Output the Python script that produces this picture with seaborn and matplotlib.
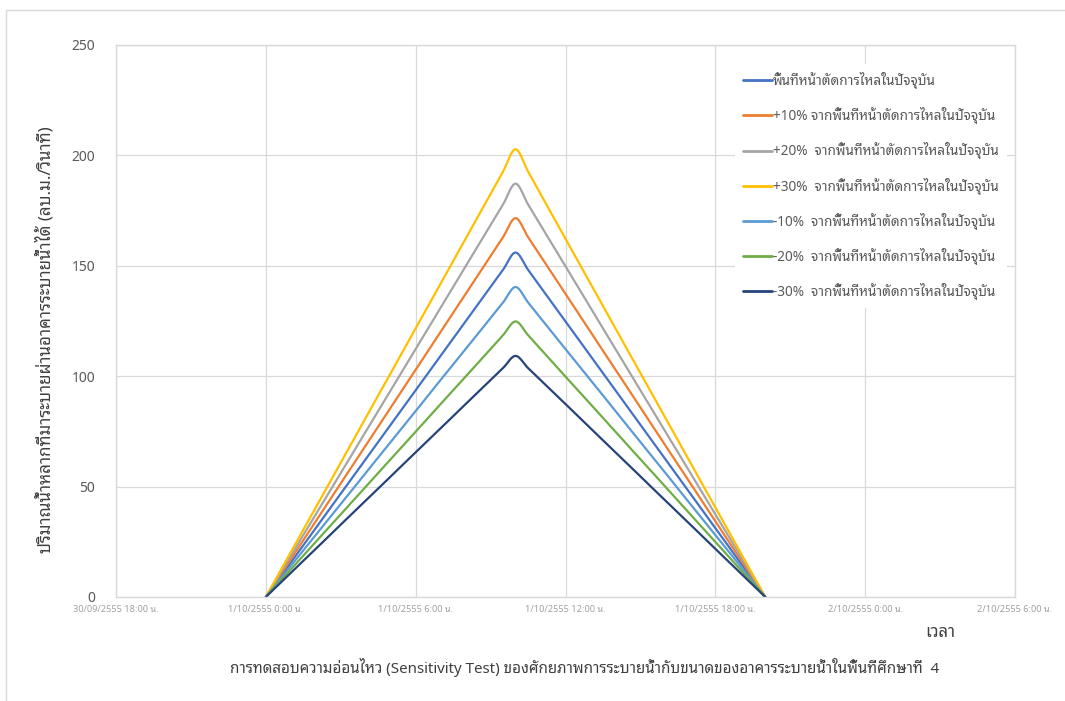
import numpy as np
import pandas as pd
import matplotlib
matplotlib.use("Agg")
import matplotlib.pyplot as plt
from matplotlib import font_manager
from matplotlib.patches import Rectangle
import seaborn as sns

# Half-hourly readings, hours after 1/10/2555 0:00 น.
hours = np.arange(0, 20.5, 0.5)

base = [0, 7.8, 15.6, 23.4, 31.2, 39.0, 46.8, 54.6, 62.4, 70.2, 78.0,
        85.8, 93.6, 101.4, 109.2, 117.0, 124.8, 132.6, 140.4, 148.2, 156.0,
        148.2, 140.4, 132.6, 124.8, 117.0, 109.2, 101.4, 93.6, 85.8, 78.0,
        70.2, 62.4, 54.6, 46.8, 39.0, 31.2, 23.4, 15.6, 7.8, 0]
plus10 = [0, 8.6, 17.2, 25.7, 34.3, 42.9, 51.5, 60.1, 68.6, 77.2, 85.8,
          94.4, 103.0, 111.5, 120.1, 128.7, 137.3, 145.9, 154.4, 163.0, 171.6,
          163.0, 154.4, 145.9, 137.3, 128.7, 120.1, 111.5, 103.0, 94.4, 85.8,
          77.2, 68.6, 60.1, 51.5, 42.9, 34.3, 25.7, 17.2, 8.6, 0]
plus20 = [0, 9.4, 18.7, 28.1, 37.4, 46.8, 56.2, 65.5, 74.9, 84.2, 93.6,
          103.0, 112.3, 121.7, 131.0, 140.4, 149.8, 159.1, 168.5, 177.8, 187.2,
          177.8, 168.5, 159.1, 149.8, 140.4, 131.0, 121.7, 112.3, 103.0, 93.6,
          84.2, 74.9, 65.5, 56.2, 46.8, 37.4, 28.1, 18.7, 9.4, 0]
plus30 = [0, 10.1, 20.3, 30.4, 40.6, 50.7, 60.8, 71.0, 81.1, 91.3, 101.4,
          111.5, 121.7, 131.8, 142.0, 152.1, 162.2, 172.4, 182.5, 192.7, 202.8,
          192.7, 182.5, 172.4, 162.2, 152.1, 142.0, 131.8, 121.7, 111.5, 101.4,
          91.3, 81.1, 71.0, 60.8, 50.7, 40.6, 30.4, 20.3, 10.1, 0]
minus10 = [0, 7.0, 14.0, 21.1, 28.1, 35.1, 42.1, 49.1, 56.2, 63.2, 70.2,
           77.2, 84.2, 91.3, 98.3, 105.3, 112.3, 119.3, 126.4, 133.4, 140.4,
           133.4, 126.4, 119.3, 112.3, 105.3, 98.3, 91.3, 84.2, 77.2, 70.2,
           63.2, 56.2, 49.1, 42.1, 35.1, 28.1, 21.1, 14.0, 7.0, 0]
minus20 = [0, 6.2, 12.5, 18.7, 25.0, 31.2, 37.4, 43.7, 49.9, 56.2, 62.4,
           68.6, 74.9, 81.1, 87.4, 93.6, 99.8, 106.1, 112.3, 118.6, 124.8,
           118.6, 112.3, 106.1, 99.8, 93.6, 87.4, 81.1, 74.9, 68.6, 62.4,
           56.2, 49.9, 43.7, 37.4, 31.2, 25.0, 18.7, 12.5, 6.2, 0]
minus30 = [0, 5.5, 10.9, 16.4, 21.8, 27.3, 32.8, 38.2, 43.7, 49.1, 54.6,
           60.1, 65.5, 71.0, 76.4, 81.9, 87.4, 92.8, 98.3, 103.7, 109.2,
           103.7, 98.3, 92.8, 87.4, 81.9, 76.4, 71.0, 65.5, 60.1, 54.6,
           49.1, 43.7, 38.2, 32.8, 27.3, 21.8, 16.4, 10.9, 5.5, 0]

series_labels = [
    "พื้นที่หน้าตัดการไหลในปัจจุบัน",
    "+10% จากพื้นที่หน้าตัดการไหลในปัจจุบัน",
    "+20%  จากพื้นที่หน้าตัดการไหลในปัจจุบัน",
    "+30%  จากพื้นที่หน้าตัดการไหลในปัจจุบัน",
    "-10%  จากพื้นที่หน้าตัดการไหลในปัจจุบัน",
    "-20%  จากพื้นที่หน้าตัดการไหลในปัจจุบัน",
    "-30%  จากพื้นที่หน้าตัดการไหลในปัจจุบัน",
]
series_values = [base, plus10, plus20, plus30, minus10, minus20, minus30]
series_colors = ["#4472C4", "#ED7D31", "#A5A5A5", "#FFC000",
                 "#5B9BD5", "#70AD47", "#264478"]

tick_hours = [-6, 0, 6, 12, 18, 24, 30]
tick_labels = ["30/09/2555 18:00 น.", "1/10/2555 0:00 น.", "1/10/2555 6:00 น.",
               "1/10/2555 12:00 น.", "1/10/2555 18:00 น.", "2/10/2555 0:00 น.",
               "2/10/2555 6:00 น."]

y_label = "ปริมาณน้ำหลากที่มาระบายผ่านอาคารระบายน้ำได้ (ลบ.ม./วินาที)"
x_label = "เวลา"
caption = ("การทดสอบความอ่อนไหว (Sensitivity Test) ของศักยภาพการระบายน้ำ"
           "กับขนาดของอาคารระบายน้ำในพื้นที่ศึกษาที่  4")


def thai_family():
    """Pick an installed family with Thai glyphs, favouring looped sans faces."""
    try:
        from fontTools.ttLib import TTFont
    except Exception:
        return None
    ranked = ["Leelawadee", "Tahoma", "Looped", "Loma", "Garuda", "Sarabun",
              "Sans Thai", "Sans"]
    found = []
    for f in font_manager.fontManager.ttflist:
        try:
            tt = TTFont(f.fname, fontNumber=0, lazy=True)
            cmap = tt.getBestCmap()
        except Exception:
            continue
        if cmap and 0x0E01 in cmap and 0x0E49 in cmap:
            found.append(f.name)
    if not found:
        return None

    def rank(name):
        for i, key in enumerate(ranked):
            if key in name:
                return i
        return len(ranked)
    return sorted(set(found), key=rank)[0]


def smooth(x, y, steps=12):
    # Catmull-Rom curve through the points, like a smoothed spreadsheet line
    x = np.asarray(x, float)
    y = np.asarray(y, float)
    px = np.concatenate([[2 * x[0] - x[1]], x, [2 * x[-1] - x[-2]]])
    py = np.concatenate([[2 * y[0] - y[1]], y, [2 * y[-1] - y[-2]]])
    xs, ys = [], []
    t = np.linspace(0, 1, steps, endpoint=False)
    for i in range(1, len(px) - 2):
        for arr, out in ((px, xs), (py, ys)):
            p0, p1, p2, p3 = arr[i - 1], arr[i], arr[i + 1], arr[i + 2]
            out.append(0.5 * (2 * p1 + (-p0 + p2) * t
                              + (2 * p0 - 5 * p1 + 4 * p2 - p3) * t ** 2
                              + (-p0 + 3 * p1 - 3 * p2 + p3) * t ** 3))
    xs.append([x[-1]])
    ys.append([y[-1]])
    return np.concatenate(xs), np.concatenate(ys)


sns.set_theme(style="white")
thai = thai_family()
families = ([thai] if thai else []) + ["DejaVu Sans"]
plt.rcParams["font.family"] = families

frames = []
for label, vals in zip(series_labels, series_values):
    sx, sy = smooth(hours, vals)
    frames.append(pd.DataFrame({"t": sx, "q": sy, "series": label}))
df = pd.concat(frames, ignore_index=True)

fig = plt.figure(figsize=(10.65, 7.01), dpi=100)
fig.patch.set_facecolor("white")
fig.add_artist(Rectangle((6 / 1065, -0.05), 1.2, 1 - 10 / 701 + 0.05,
                         transform=fig.transFigure, fill=False,
                         edgecolor="#D9D9D9", linewidth=1.0))

ax = fig.add_axes([116 / 1065, 1 - 597 / 701, 899 / 1065, 552 / 701])
sns.lineplot(data=df, x="t", y="q", hue="series", hue_order=series_labels,
             palette=series_colors, sort=False, estimator=None,
             linewidth=1.6, ax=ax)

ax.set_xlim(-6, 30)
ax.set_ylim(0, 250)
ax.set_xticks(tick_hours)
ax.set_xticklabels(tick_labels, fontsize=6.6, color="#A0A0A0")
ax.set_yticks(range(0, 251, 50))
ax.tick_params(axis="y", labelsize=10, labelcolor="#595959", pad=15, length=0)
ax.tick_params(axis="x", pad=6, length=0)
ax.grid(True, color="#D9D9D9", linewidth=0.9)
for sp in ax.spines.values():
    sp.set_color("#D9D9D9")
    sp.set_linewidth(1.0)
ax.set_xlabel("")
ax.set_ylabel("")

fig.text(45 / 1065, 1 - 340 / 701, y_label, rotation=90, ha="center",
         va="center", fontsize=12.2, color="#404040")
fig.text(940 / 1065, 1 - 633 / 701, x_label, ha="center", va="center",
         fontsize=12, color="#404040")
fig.text(585 / 1065, 1 - 667 / 701, caption, ha="center", va="center",
         fontsize=10.9, color="#404040")

leg = ax.legend(loc="upper left",
                bbox_to_anchor=((728 - 116) / 899, 1 - (57 - 45) / 552),
                frameon=True, fancybox=False, edgecolor="none", facecolor="white",
                framealpha=1, fontsize=9.8, labelspacing=1.33, handlelength=2.1,
                handletextpad=0.1, borderpad=0.6)
for txt in leg.get_texts():
    txt.set_color("#595959")
for ln in leg.get_lines():
    ln.set_linewidth(2.0)

fig.savefig("out.png", dpi=100)
